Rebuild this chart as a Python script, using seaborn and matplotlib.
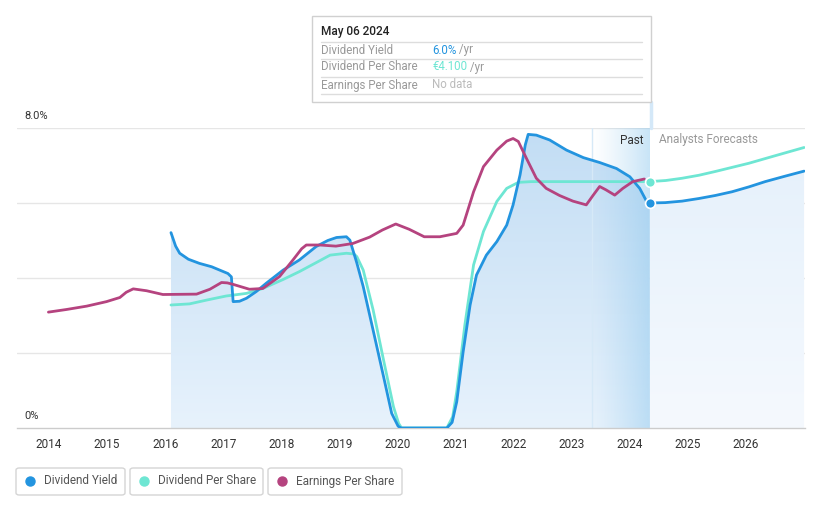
import numpy as np
import pandas as pd
import matplotlib
matplotlib.use("Agg")
import matplotlib.pyplot as plt
import seaborn as sns
from matplotlib.patches import Rectangle, FancyBboxPatch
from matplotlib.colors import to_rgb

# ---------------- data ----------------
dy_years = [2016.10, 2016.18, 2016.25, 2016.40, 2016.59, 2016.80, 2016.94, 2017.08, 2017.14,
            2017.17, 2017.28, 2017.40, 2017.57, 2017.74, 2018.03, 2018.31, 2018.60, 2018.80,
            2018.95, 2019.12, 2019.18, 2019.30, 2019.41, 2019.58, 2019.76, 2019.90, 2020.01,
            2020.06, 2020.85, 2020.94, 2021.02, 2021.13, 2021.25, 2021.36, 2021.53, 2021.71,
            2021.88, 2021.99, 2022.11, 2022.20, 2022.25, 2022.39, 2022.62, 2022.91, 2023.20,
            2023.48, 2023.77, 2024.00, 2024.17, 2024.29, 2024.34]
dy_values = [5.21, 4.85, 4.66, 4.50, 4.39, 4.30, 4.21, 4.12, 4.03,
             3.37, 3.38, 3.46, 3.64, 3.86, 4.21, 4.48, 4.84, 5.00,
             5.08, 5.10, 5.01, 4.40, 3.77, 2.61, 1.37, 0.39, 0.05,
             0.0, 0.0, 0.15, 0.70, 2.03, 3.28, 4.08, 4.61, 4.97,
             5.41, 5.95, 6.75, 7.55, 7.83, 7.81, 7.68, 7.41, 7.21,
             7.08, 6.92, 6.70, 6.39, 6.04, 6.00]
dy_fc_years = [2024.34, 2024.61, 2024.90, 2025.19, 2025.47, 2025.76, 2026.05, 2026.33, 2026.66, 2027.0]
dy_fc_values = [6.00, 6.01, 6.05, 6.12, 6.20, 6.30, 6.43, 6.57, 6.71, 6.85]

dps_years = [2016.10, 2016.42, 2016.71, 2017.05, 2017.40, 2017.68, 2018.03, 2018.31, 2018.60,
             2018.84, 2019.12, 2019.25, 2019.30, 2019.41, 2019.58, 2019.76, 2019.93, 2020.02,
             2020.07, 2020.85, 2020.95, 2021.02, 2021.16, 2021.31, 2021.48, 2021.71, 2021.88,
             2022.08, 2022.30, 2023.00, 2024.34]
dps_values = [3.28, 3.31, 3.41, 3.52, 3.59, 3.72, 3.96, 4.17, 4.41,
              4.61, 4.66, 4.64, 4.57, 4.21, 3.15, 1.81, 0.57, 0.12,
              0.0, 0.0, 0.30, 0.97, 2.75, 4.35, 5.24, 6.04, 6.39,
              6.55, 6.57, 6.57, 6.57]
dps_fc_years = [2024.34, 2024.62, 2024.90, 2025.19, 2025.47, 2025.76, 2026.05, 2026.50, 2027.0]
dps_fc_values = [6.57, 6.60, 6.66, 6.74, 6.84, 6.95, 7.06, 7.26, 7.48]

eps_years = [2013.99, 2014.30, 2014.65, 2014.99, 2015.22, 2015.33, 2015.45, 2015.68, 2015.96,
             2016.54, 2016.77, 2016.97, 2017.07, 2017.17, 2017.45, 2017.68, 2017.97, 2018.20,
             2018.35, 2018.43, 2018.66, 2018.94, 2019.23, 2019.52, 2019.74, 2019.97, 2020.20,
             2020.46, 2020.73, 2021.02, 2021.13, 2021.31, 2021.48, 2021.71, 2021.88, 2021.99,
             2022.08, 2022.22, 2022.39, 2022.56, 2022.79, 2023.02, 2023.25, 2023.37, 2023.48,
             2023.59, 2023.74, 2023.88, 2024.05, 2024.25]
eps_values = [3.09, 3.16, 3.25, 3.37, 3.48, 3.62, 3.71, 3.66, 3.56,
              3.57, 3.70, 3.88, 3.87, 3.83, 3.70, 3.72, 4.04, 4.48,
              4.78, 4.88, 4.88, 4.85, 4.92, 5.09, 5.28, 5.44, 5.30,
              5.10, 5.10, 5.19, 5.41, 6.30, 6.97, 7.41, 7.65, 7.72,
              7.64, 7.19, 6.66, 6.39, 6.20, 6.05, 5.95, 6.21, 6.44,
              6.35, 6.21, 6.39, 6.57, 6.64]

year_ticks = list(range(2014, 2027))
y_labels = ["0%", "8.0%"]
legend_labels = ["Dividend Yield", "Dividend Per Share", "Earnings Per Share"]

BLUE = "#2394df"
TEAL = "#6ee6d3"
MAG = "#b5437f"

# ---------------- figure ----------------
sns.set_style("white")
plt.rcParams["font.family"] = ["Roboto", "DejaVu Sans"]
plt.rcParams["lines.solid_joinstyle"] = "round"
plt.rcParams["lines.solid_capstyle"] = "round"

W, H = 821, 508
fig = plt.figure(figsize=(W / 100, H / 100), dpi=100)

def fx(x):
    return x / W

def fy(y):
    return 1 - y / H

ax = fig.add_axes([fx(17), fy(428), (805 - 17) / W, 300 / H])
ppy = (746 - 49) / 12.0
xmin = 2014 - 32 / ppy
xmax = 2014 + (805 - 49) / ppy
ax.set_xlim(xmin, xmax)
ax.set_ylim(0, 8)

for v in [2, 4, 6, 8]:
    ax.axhline(v, color="#e6e6e6", lw=1, zorder=0)

def grad_fill(xs, ys, top_col, bot_col, z=1):
    poly = ax.fill_between(xs, ys, 0, color="none", lw=0)
    n = 256
    t = np.linspace(0, 1, n)[:, None]
    tc, bc = np.array(to_rgb(top_col)), np.array(to_rgb(bot_col))
    rgb = tc * (1 - t) + bc * t
    img = np.concatenate([rgb, np.ones((n, 1))], axis=1)[:, None, :]
    img = np.repeat(img, 2, axis=1)
    im = ax.imshow(img, extent=[xmin, xmax, 0, 8], aspect="auto", zorder=z,
                   origin="upper", interpolation="bilinear")
    im.set_clip_path(poly.get_paths()[0], transform=ax.transData)

grad_fill(dy_years, dy_values, "#c2ddf4", "#e7f2fc", z=1)
grad_fill(dy_fc_years, dy_fc_values, "#e4f0fb", "#f5f9fe", z=1)

past_start = 2014 + (592 - 49) / ppy
now_x = 2024.34
n = 256
band = np.zeros((2, n, 4))
band[..., :3] = np.array(to_rgb("#8ec8ee"))
band[..., 3] = np.linspace(0.0, 0.55, n) ** 1.2
ax.imshow(band, extent=[past_start, now_x, 0, 8], aspect="auto", zorder=2,
          origin="upper", interpolation="bilinear")
ax.axvline(past_start, color="#d6e9f7", lw=1, zorder=2)
ax.set_xlim(xmin, xmax)
ax.set_ylim(0, 8)

lw = 2.0
sns.lineplot(x=dy_years, y=dy_values, color=BLUE, lw=lw, ax=ax, zorder=5)
sns.lineplot(x=dy_fc_years, y=dy_fc_values, color=BLUE, lw=lw, ax=ax, zorder=5)
sns.lineplot(x=dps_years, y=dps_values, color=TEAL, lw=lw, ax=ax, zorder=4)
sns.lineplot(x=dps_fc_years, y=dps_fc_values, color=TEAL, lw=lw, ax=ax, zorder=4)
sns.lineplot(x=eps_years, y=eps_values, color=MAG, lw=lw, ax=ax, zorder=6)

ax.scatter([now_x], [dy_values[-1]], s=50, color=BLUE, edgecolor="white", lw=1.2, zorder=8)
ax.scatter([now_x], [dps_values[-1]], s=50, color=TEAL, edgecolor="white", lw=1.2, zorder=8)

for s in ["top", "right", "left"]:
    ax.spines[s].set_visible(False)
ax.spines["bottom"].set_color("#cccccc")
ax.spines["bottom"].set_linewidth(1)
ax.set_yticks([])
ax.set_xticks(year_ticks)
ax.set_xticklabels([str(y) for y in year_ticks], fontsize=8.5, color="#333333")
ax.tick_params(axis="x", length=4, width=1, color="#cccccc", pad=3)
ax.set_xlabel("")
ax.set_ylabel("")

fig.text(fx(24), fy(116), y_labels[1], fontsize=8, color="#333333", va="center", ha="left")
fig.text(fx(24), fy(416), y_labels[0], fontsize=8, color="#333333", va="center", ha="left")

fig.text(fx(643), fy(140), "Past", fontsize=8.5, color="#333333", va="center", ha="right")
fig.text(fx(659), fy(140), "Analysts Forecasts", fontsize=8.5, color="#999999", va="center", ha="left")

fig.add_artist(plt.Line2D([fx(651), fx(651)], [fy(102), fy(128)], color="#d4e8f8", lw=2.5))

fig.add_artist(Rectangle((fx(312), fy(102)), (651 - 312) / W, (102 - 16) / H,
                         facecolor="white", edgecolor="#d0d0d0", lw=1, zorder=10))
fig.text(fx(321), fy(32), "May 06 2024", fontsize=8.5, color="#222222",
         va="center", ha="left", weight="medium", zorder=11)
rows = [("Dividend Yield", "6.0%", BLUE, " /yr", 50),
        ("Dividend Per Share", "\u20ac4.100", TEAL, " /yr", 67),
        ("Earnings Per Share", "No data", "#bbbbbb", "", 85)]
for lab, val, c, suf, yy in rows:
    fig.text(fx(321), fy(yy), lab, fontsize=8.3, color="#999999", va="center", ha="left", zorder=11)
    t = fig.text(fx(432), fy(yy), val, fontsize=8.3, color=c, va="center", ha="left", zorder=11)
    if suf:
        fig.canvas.draw()
        bb = t.get_window_extent()
        fig.text(bb.x1 / W, fy(yy), suf, fontsize=8.3, color="#999999", va="center", ha="left", zorder=11)
for yy in [42, 59, 77, 94]:
    fig.add_artist(plt.Line2D([fx(321), fx(642)], [fy(yy), fy(yy)], color="#dddddd", lw=1, zorder=11))

boxes = [(16, 125), (130, 263), (268, 402)]
cols = [BLUE, TEAL, MAG]
for (x0, x1), lab, c in zip(boxes, legend_labels, cols):
    fig.add_artist(FancyBboxPatch((fx(x0), fy(495)), (x1 - x0) / W, 27 / H,
                                  boxstyle="round,pad=0,rounding_size=0.004",
                                  facecolor="white", edgecolor="#d5d5d5", lw=1))
    fig.add_artist(plt.Line2D([fx(x0 + 14)], [fy(481)], marker="o", markersize=6.5,
                              color=c, lw=0))
    fig.text(fx(x0 + 28), fy(481), lab, fontsize=8.5, color="#555555", va="center", ha="left")

fig.savefig("out.png", dpi=100)
